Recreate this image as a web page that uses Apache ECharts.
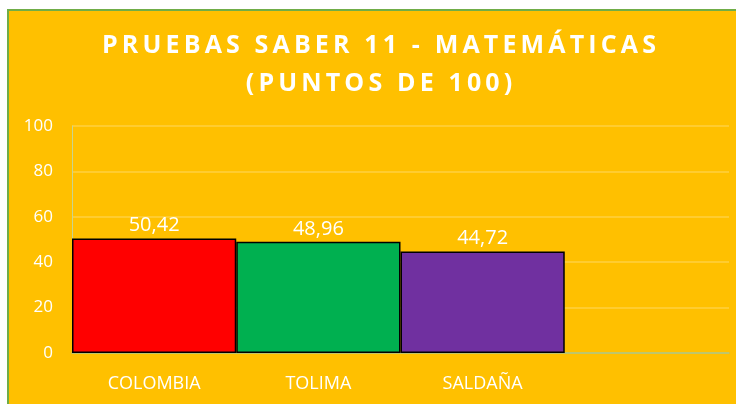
<!DOCTYPE html>
<html>
<head>
<meta charset="utf-8">
<script src="https://cdn.jsdelivr.net/npm/echarts@6/dist/echarts.min.js"></script>
<style>
  html, body { margin: 0; padding: 0; background: #fff; overflow: hidden; }
  #chart {
    position: absolute; left: 7px; top: 9px;
    width: 740px; height: 400px;
    border: 2px solid #70AD47;
    background: #FFC000;
  }
</style>
</head>
<body>
<div id="chart"></div>
<script>
// categorías (la cuarta queda vacía como en el original)
const categories = ['COLOMBIA', 'TOLIMA', 'SALDAÑA', ''];
const puntajes = [50.42, 48.96, 44.72, null];
const barColors = ['#FF0000', '#00B050', '#7030A0'];
const yTicks = [0, 20, 40, 60, 80, 100];
const titleLines = ['PRUEBAS SABER 11 - MATEMÁTICAS', '(PUNTOS DE 100)'];

// el título original lleva espaciado entre letras
const spaced = s => s.split('').join('\u2009');

const chart = echarts.init(document.getElementById('chart'), null, { renderer: 'canvas' });
const font = '"Open Sans", sans-serif';

const option = {
  backgroundColor: '#FFC000',
  title: {
    text: titleLines.map(spaced).join('\n'),
    left: 'center',
    top: 11,
    textStyle: {
      color: '#fff',
      fontFamily: font,
      fontWeight: 'bold',
      fontSize: 25,
      lineHeight: 38
    }
  },
  grid: { left: 63, right: 20, top: 115, bottom: 58 },
  xAxis: {
    type: 'category',
    data: categories,
    axisLine: { lineStyle: { color: '#A9C47F', width: 1.5 } },
    axisTick: { show: false },
    axisLabel: { color: '#fff', fontFamily: font, fontSize: 18, margin: 22 }
  },
  yAxis: {
    type: 'value',
    min: yTicks[0],
    max: yTicks[yTicks.length - 1],
    interval: 20,
    axisLine: { show: true, lineStyle: { color: '#C9D48F', width: 1 } },
    axisTick: { show: false },
    axisLabel: { color: '#fff', fontFamily: font, fontSize: 17, margin: 19 },
    splitLine: { lineStyle: { color: 'rgba(255,255,255,0.25)', width: 1.5 } }
  },
  series: [{
    type: 'bar',
    barCategoryGap: 0,
    data: puntajes.map((v, i) => v == null ? v : {
      value: v,
      itemStyle: { color: barColors[i] }
    }),
    itemStyle: { borderColor: '#000', borderWidth: 1.5 },
    label: {
      show: true,
      position: 'top',
      distance: 3,
      color: '#fff',
      fontFamily: font,
      fontSize: 20,
      formatter: p => p.value.toFixed(2).replace('.', ',')
    }
  }]
};
chart.setOption(option);
</script>
</body>
</html>
